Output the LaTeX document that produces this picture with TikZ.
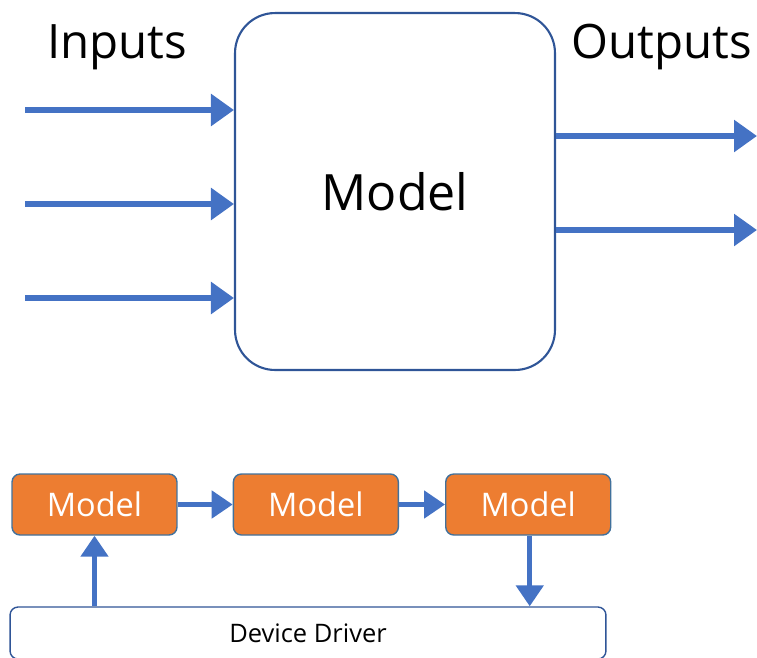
\documentclass[tikz,border=0pt]{standalone}
\usepackage{fontspec}
\setmainfont{Open Sans}
\usetikzlibrary{arrows.meta,positioning}
\definecolor{flowblue}{HTML}{4472C4}
\definecolor{edgeblue}{HTML}{2F5597}
\definecolor{stageorange}{HTML}{ED7D31}
\definecolor{stageedge}{HTML}{41719C}

\begin{document}
\begin{tikzpicture}
[x=0.02cm, y=-0.02cm,
% STYLES
% the big block in the middle
block/.style={rectangle, draw=edgeblue, line width=1.2pt, rounded corners=0.8cm, minimum width=6.4cm, minimum height=7.14cm, font=\fontsize{28.5}{32}\selectfont},
% the small orange stages
stage/.style={rectangle, draw=stageedge, line width=0.8pt, fill=stageorange, rounded corners=0.16cm, minimum width=3.3cm, minimum height=1.22cm, text=white, font=\fontsize{18.5}{22}\selectfont},
% the driver strip at the bottom
driver/.style={rectangle, draw=edgeblue, line width=0.8pt, rounded corners=0.16cm, minimum width=11.92cm, minimum height=1.04cm, font=\fontsize{14.5}{17}\selectfont},
label/.style={font=\fontsize{27}{31}\selectfont},
% the thick blue arrows
flow/.style={draw=flowblue, line width=3.4pt, -{Triangle[length=0.46cm, width=0.62cm]}},
smallflow/.style={draw=flowblue, line width=2.8pt, -{Triangle[length=0.42cm, width=0.54cm]}}]

\useasboundingbox (0,0) rectangle (757,657);

% Draw the model with its inputs and outputs
\node [block] (model) at (395,191.5) {Model};
\node [label] (inputs) at (117,47) {Inputs};
\node [label] (outputs) at (662,47) {Outputs};

\coordinate (in1) at (25,110);
\coordinate (in2) at (25,204);
\coordinate (in3) at (25,298);
\coordinate (out1) at (757,136);
\coordinate (out2) at (757,230);

\draw [flow] (in1) -- (in1 -| model.west);
\draw [flow] (in2) -- (in2 -| model.west);
\draw [flow] (in3) -- (in3 -| model.west);
\draw [flow] (out1 -| model.east) -- (out1);
\draw [flow] (out2 -| model.east) -- (out2);

% Draw the chain of models over the driver
\node [stage] (stage1) at (94.5,504.5) {Model};
\node [stage, right=1.1cm of stage1] (stage2) {Model};
\node [stage, right=0.92cm of stage2] (stage3) {Model};
\node [driver] (drv) at (308,633) {Device Driver};

\draw [smallflow] (stage1) -- (stage2);
\draw [smallflow] (stage2) -- (stage3);
\draw [smallflow] (drv.north -| stage1) -- (stage1);
\draw [smallflow] (stage3.south) ++(1.5,0) coordinate (down) (down) -- (down |- drv.north);

\end{tikzpicture}
\end{document}
